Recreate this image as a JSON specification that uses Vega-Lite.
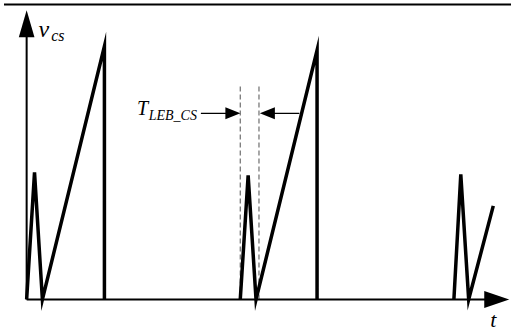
{
  "$schema": "https://vega.github.io/schema/vega-lite/v6.json",
  "width": 515,
  "height": 331,
  "autosize": {"type": "fit", "contains": "padding"},
  "padding": 0,
  "background": "white",
  "config": {"view": {"stroke": null}},
  "datasets": {
    "wave": [
      {"pulse": 1, "i": 0, "t": 0, "v": 0},
      {"pulse": 1, "i": 1, "t": 8, "v": 129},
      {"pulse": 1, "i": 2, "t": 16, "v": 0},
      {"pulse": 1, "i": 3, "t": 79, "v": 257},
      {"pulse": 1, "i": 4, "t": 79, "v": 0},
      {"pulse": 2, "i": 0, "t": 217, "v": 0},
      {"pulse": 2, "i": 1, "t": 225, "v": 126},
      {"pulse": 2, "i": 2, "t": 233, "v": 0},
      {"pulse": 2, "i": 3, "t": 295, "v": 253},
      {"pulse": 2, "i": 4, "t": 295, "v": 0},
      {"pulse": 3, "i": 0, "t": 434, "v": 0},
      {"pulse": 3, "i": 1, "t": 441, "v": 127},
      {"pulse": 3, "i": 2, "t": 449, "v": 0},
      {"pulse": 3, "i": 3, "t": 474, "v": 95}
    ],
    "axes": [
      {"axis": "v", "i": 0, "t": 0, "v": 0},
      {"axis": "v", "i": 1, "t": 0, "v": 272},
      {"axis": "t", "i": 0, "t": 0, "v": 0},
      {"axis": "t", "i": 1, "t": 470, "v": 0}
    ],
    "blanking": [
      {"edge": "start", "i": 0, "t": 217, "v": 0},
      {"edge": "start", "i": 1, "t": 217, "v": 218},
      {"edge": "end", "i": 0, "t": 236, "v": 0},
      {"edge": "end", "i": 1, "t": 236, "v": 218}
    ],
    "callout": [
      {"side": "left", "i": 0, "t": 177, "v": 189},
      {"side": "left", "i": 1, "t": 212, "v": 189},
      {"side": "right", "i": 0, "t": 242, "v": 189},
      {"side": "right", "i": 1, "t": 277, "v": 189}
    ]
  },
  "encoding": {
    "x": {"field": "t", "type": "quantitative", "scale": {"domain": [-23, 492], "nice": false, "zero": false}, "axis": null},
    "y": {"field": "v", "type": "quantitative", "scale": {"domain": [-31, 300], "nice": false, "zero": false}, "axis": null}
  },
  "layer": [
    {
      "data": {"values": [{"i": 0, "t": -23, "v": 299.5}, {"i": 1, "t": 492, "v": 299.5}]},
      "mark": {"type": "line", "color": "black", "strokeWidth": 2},
      "encoding": {"order": {"field": "i"}}
    },
    {
      "data": {"name": "blanking"},
      "mark": {"type": "line", "color": "#6e6e6e", "strokeWidth": 1.2, "strokeDash": [5, 3]},
      "encoding": {"detail": {"field": "edge"}, "order": {"field": "i"}}
    },
    {
      "data": {"name": "axes"},
      "mark": {"type": "line", "color": "black", "strokeWidth": 2},
      "encoding": {"detail": {"field": "axis"}, "order": {"field": "i"}}
    },
    {
      "data": {"name": "callout"},
      "mark": {"type": "line", "color": "black", "strokeWidth": 1.3},
      "encoding": {"detail": {"field": "side"}, "order": {"field": "i"}}
    },
    {
      "data": {"name": "wave"},
      "mark": {"type": "line", "color": "black", "strokeWidth": 3.5, "strokeJoin": "miter", "strokeMiterLimit": 10},
      "encoding": {"detail": {"field": "pulse"}, "order": {"field": "i"}}
    },
    {
      "data": {"values": [{"t": 0, "v": 280}]},
      "mark": {"type": "point", "shape": "M0,-1L0.58,1L-0.58,1Z", "size": 729, "filled": true, "color": "black", "opacity": 1, "strokeWidth": 0}
    },
    {
      "data": {"values": [{"t": 477.5, "v": 0}]},
      "mark": {"type": "point", "shape": "M1,0L-1,-0.68L-1,0.68Z", "size": 625, "filled": true, "color": "black", "opacity": 1, "strokeWidth": 0}
    },
    {
      "data": {"values": [{"t": 209.5, "v": 189}]},
      "mark": {"type": "point", "shape": "M1,0L-1,-0.8L-1,0.8Z", "size": 225, "filled": true, "color": "black", "opacity": 1, "strokeWidth": 0}
    },
    {
      "data": {"values": [{"t": 244.5, "v": 189}]},
      "mark": {"type": "point", "shape": "M-1,0L1,-0.8L1,0.8Z", "size": 225, "filled": true, "color": "black", "opacity": 1, "strokeWidth": 0}
    },
    {
      "data": {"values": [{"t": 12, "v": 266, "label": "v"}]},
      "mark": {"type": "text", "align": "left", "baseline": "alphabetic", "font": "Liberation Serif", "fontStyle": "italic", "fontSize": 24, "color": "black"},
      "encoding": {"text": {"field": "label"}}
    },
    {
      "data": {"values": [{"t": 25, "v": 262, "label": "cs"}]},
      "mark": {"type": "text", "align": "left", "baseline": "alphabetic", "font": "Liberation Serif", "fontStyle": "italic", "fontSize": 16, "color": "black"},
      "encoding": {"text": {"field": "label"}}
    },
    {
      "data": {"values": [{"t": 112, "v": 187, "label": "T"}]},
      "mark": {"type": "text", "align": "left", "baseline": "alphabetic", "font": "Liberation Serif", "fontStyle": "italic", "fontSize": 20, "color": "black"},
      "encoding": {"text": {"field": "label"}}
    },
    {
      "data": {"values": [{"t": 124, "v": 182, "label": "LEB_CS"}]},
      "mark": {"type": "text", "align": "left", "baseline": "alphabetic", "font": "Liberation Serif", "fontStyle": "italic", "fontSize": 14, "color": "black"},
      "encoding": {"text": {"field": "label"}}
    },
    {
      "data": {"values": [{"t": 474, "v": -28, "label": "t"}]},
      "mark": {"type": "text", "align": "center", "baseline": "alphabetic", "font": "Liberation Serif", "fontStyle": "italic", "fontSize": 22, "color": "black"},
      "encoding": {"text": {"field": "label"}}
    }
  ]
}
